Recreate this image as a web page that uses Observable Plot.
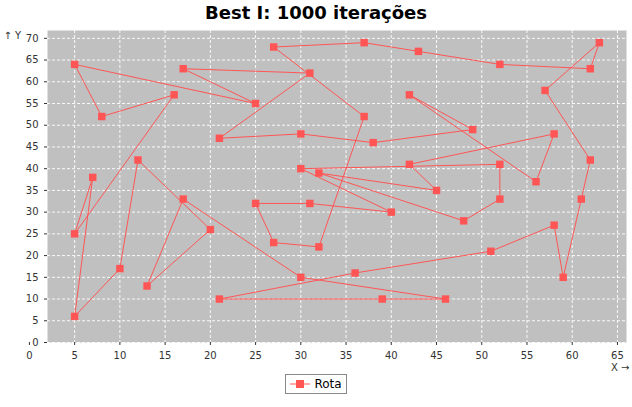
<!DOCTYPE html>
<html><head><meta charset="utf-8">
<script src="https://cdn.jsdelivr.net/npm/d3@7"></script>
<script src="https://cdn.jsdelivr.net/npm/@observablehq/plot@0.6"></script>
<style>
body{margin:0;background:#fff;font-family:"DejaVu Sans",sans-serif;width:632px;height:407px;overflow:hidden}
#title{height:28px;line-height:26px;text-align:center;font-weight:bold;font-size:18px}
#legend{display:flex;justify-content:center;margin-top:1px}
#legend div{border:1px solid #888;padding:2px 4px;font-size:12px;display:flex;align-items:center;gap:4px}
</style></head><body>
<div id="title">Best I: 1000 iterações</div>
<div id="chart"></div>
<div id="legend"><div><svg width="20" height="10"><line x1="0" y1="5" x2="20" y2="5" stroke="#ff5555"/><rect x="6" y="1" width="8" height="8" fill="#ff5555"/></svg>Rota</div></div>
<script>
const routeX = [5,8,16,5,7,5,10,12,20,13,17,30,46,39,21,36,51,58,59,61,62,57,63,62,52,43,37,27,37,32,27,25,31,40,30,52,52,48,32,45,42,58,56,42,49,38,30,21,31,17,25];
const routeY = [64,52,57,25,38,6,17,42,26,13,33,15,10,10,10,16,21,27,15,33,42,58,69,63,64,67,69,68,52,22,23,32,32,30,40,41,33,28,39,35,41,48,37,57,49,46,48,47,62,63,55];
const xTicks = d3.range(0,70,5);
const yTicks = d3.range(0,75,5);
const pts = routeX.map((x,i)=>({x,y:routeY[i]}));
const loop = pts.concat([pts[0]]);
const col = "#ff5555";
const chart = Plot.plot({
  width:632,height:345,marginLeft:47,marginRight:6,marginTop:2,marginBottom:31,
  style:{fontFamily:"DejaVu Sans",fontSize:"10px",color:"#333"},
  x:{domain:[2,66],ticks:xTicks,label:"X",labelAnchor:"center",labelArrow:"none",labelOffset:29,tickSize:3},
  y:{domain:[0,71.8],ticks:yTicks,label:"Y",labelAnchor:"center",labelArrow:"none",labelOffset:32,tickSize:3},
  marks:[
    Plot.frame({fill:"#c0c0c0"}),
    Plot.gridX(xTicks,{stroke:"#fff",strokeOpacity:0.9,strokeDasharray:"3,2"}),
    Plot.gridY(yTicks,{stroke:"#fff",strokeOpacity:0.9,strokeDasharray:"3,2"}),
    Plot.line(loop,{x:"x",y:"y",stroke:col,strokeWidth:1}),
    Plot.dot(pts,{x:"x",y:"y",symbol:"square",r:4.2,fill:col}),
    Plot.axisX({ticks:xTicks,tickSize:3,label:"X"}),
    Plot.axisY({ticks:yTicks,tickSize:3,label:"Y"})
  ]
});
document.getElementById("chart").appendChild(chart);
</script></body></html>
